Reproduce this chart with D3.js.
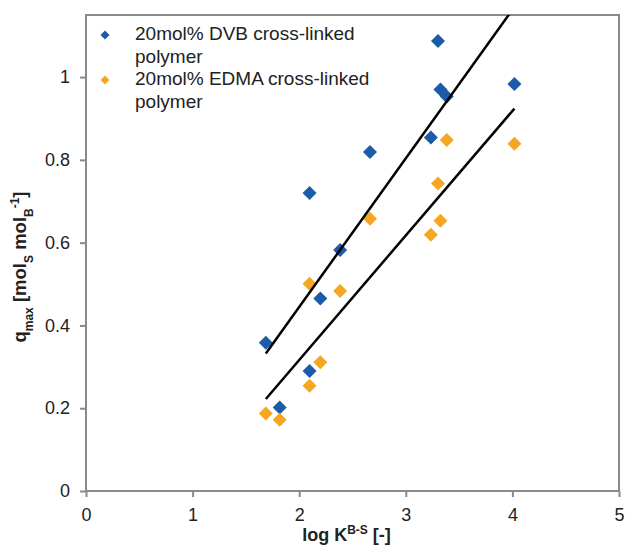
<!DOCTYPE html>
<html>
<head>
<meta charset="utf-8">
<script src="https://cdn.jsdelivr.net/npm/d3@7"></script>
<style>
  body { margin: 0; background: #fff; }
  text { font-family: "Liberation Sans", Arial, sans-serif; }
</style>
</head>
<body>
<script>
// data
const logK = [1.687, 1.817, 2.097, 2.097, 2.198, 2.384, 2.664, 3.235, 3.302, 3.325, 3.384, 4.019];
const qDVB = [0.358, 0.202, 0.720, 0.290, 0.465, 0.582, 0.819, 0.854, 1.087, 0.970, 0.953, 0.983];
const qEDMA = [0.187, 0.172, 0.501, 0.254, 0.311, 0.483, 0.658, 0.619, 0.743, 0.653, 0.848, 0.839];
const seriesNames = ["20mol% DVB cross-linked polymer", "20mol% EDMA cross-linked polymer"];
const seriesColors = ["#1c5ba8", "#f5a623"];
const xTicks = [0, 1, 2, 3, 4, 5];
const yTicks = [0, 0.2, 0.4, 0.6, 0.8, 1];

// canvas
const canvWidth = 625, canvHeight = 547;
const svg = d3.select("body").append("svg")
    .attr("width", canvWidth)
    .attr("height", canvHeight);

// plot area
const margin = { top: 15, right: 6, bottom: 56, left: 86 };
const width = canvWidth - margin.left - margin.right;
const height = canvHeight - margin.top - margin.bottom;

const g = svg.append("g")
    .attr("transform", "translate(" + margin.left + "," + margin.top + ")");

const xScale = d3.scaleLinear().domain([0, 5]).range([0, width]);
const yScale = d3.scaleLinear().domain([0, 1.15]).range([height, 0]);

g.append("clipPath").attr("id", "plot-clip")
    .append("rect").attr("width", width).attr("height", height);

// axes
const xAxis = g.append("g")
    .attr("transform", "translate(0," + height + ")")
    .call(d3.axisBottom(xScale).tickValues(xTicks).tickSize(6).tickPadding(11).tickFormat(d3.format("d")));
const yAxis = g.append("g")
    .call(d3.axisLeft(yScale).tickValues(yTicks).tickSize(6).tickPadding(10).tickFormat(d => d === 0 || d === 1 ? d : d.toFixed(1)));

[xAxis, yAxis].forEach(ax => {
    ax.select(".domain").remove();
    ax.selectAll(".tick line").attr("stroke", "#8a8a8a").attr("stroke-width", 2);
    ax.selectAll(".tick text")
        .attr("fill", "#222")
        .style("font-size", "18px")
        .style("font-family", "'Liberation Sans', Arial, sans-serif");
});

// frame
g.append("rect")
    .attr("width", width)
    .attr("height", height)
    .attr("fill", "none")
    .attr("stroke", "#8a8a8a")
    .attr("stroke-width", 2);

// diamond path
const diamond = r => "M0," + (-r) + "L" + r + ",0L0," + r + "L" + (-r) + ",0Z";

// points
const series = [qDVB, qEDMA];
series.forEach((ys, si) => {
    g.append("g").selectAll("path")
        .data(ys.map((y, i) => ({ x: logK[i], y: y })))
        .enter()
        .append("path")
        .attr("d", diamond(7))
        .attr("transform", d => "translate(" + xScale(d.x) + "," + yScale(d.y) + ")")
        .attr("fill", seriesColors[si]);
});

// linear trendlines (least squares, like the spreadsheet trendline)
function fit(xs, ys) {
    const mx = d3.mean(xs), my = d3.mean(ys);
    let sxy = 0, sxx = 0;
    xs.forEach((x, i) => {
        sxy += (x - mx) * (ys[i] - my);
        sxx += (x - mx) * (x - mx);
    });
    const b = sxy / sxx;
    return x => my + b * (x - mx);
}
const xExt = d3.extent(logK);
series.forEach(ys => {
    const f = fit(logK, ys);
    g.append("line")
        .attr("clip-path", "url(#plot-clip)")
        .attr("x1", xScale(xExt[0]))
        .attr("y1", yScale(f(xExt[0])))
        .attr("x2", xScale(xExt[1]))
        .attr("y2", yScale(f(xExt[1])))
        .attr("stroke", "#000")
        .attr("stroke-width", 2.5);
});

// legend
const legend = svg.append("g").attr("transform", "translate(105,0)");
const legendRows = [[40, 62.5], [85, 107.5]];
seriesNames.forEach((name, i) => {
    legend.append("path")
        .attr("d", diamond(4.5))
        .attr("transform", "translate(0," + (legendRows[i][0] - 5) + ")")
        .attr("fill", seriesColors[i]);
    const words = name.split(" ");
    const t = legend.append("text")
        .attr("x", 30)
        .attr("fill", "#222")
        .style("font-size", "19px");
    t.append("tspan").attr("x", 30).attr("y", legendRows[i][0]).text(words.slice(0, 3).join(" "));
    t.append("tspan").attr("x", 30).attr("y", legendRows[i][1]).text(words.slice(3).join(" "));
});

// x axis label
const xl = svg.append("text")
    .attr("x", margin.left + width / 2 - 6)
    .attr("y", 541)
    .attr("text-anchor", "middle")
    .attr("font-weight", "bold")
    .attr("fill", "#222")
    .style("font-size", "18px");
xl.append("tspan").text("log K");
xl.append("tspan").attr("baseline-shift", "super").style("font-size", "12px").text("B-S");
xl.append("tspan").text(" [-]");

// y axis label
const yl = svg.append("text")
    .attr("transform", "translate(26,267) rotate(-90)")
    .attr("text-anchor", "middle")
    .attr("font-weight", "bold")
    .attr("fill", "#222")
    .style("font-size", "18.5px");
yl.append("tspan").text("q");
yl.append("tspan").attr("baseline-shift", "sub").style("font-size", "12px").text("max");
yl.append("tspan").text(" [mol");
yl.append("tspan").attr("baseline-shift", "sub").style("font-size", "12px").text("S");
yl.append("tspan").text(" mol");
yl.append("tspan").attr("baseline-shift", "sub").style("font-size", "12px").text("B");
yl.append("tspan").attr("baseline-shift", "super").style("font-size", "12px").text("-1");
yl.append("tspan").text("]");
</script>
</body>
</html>
